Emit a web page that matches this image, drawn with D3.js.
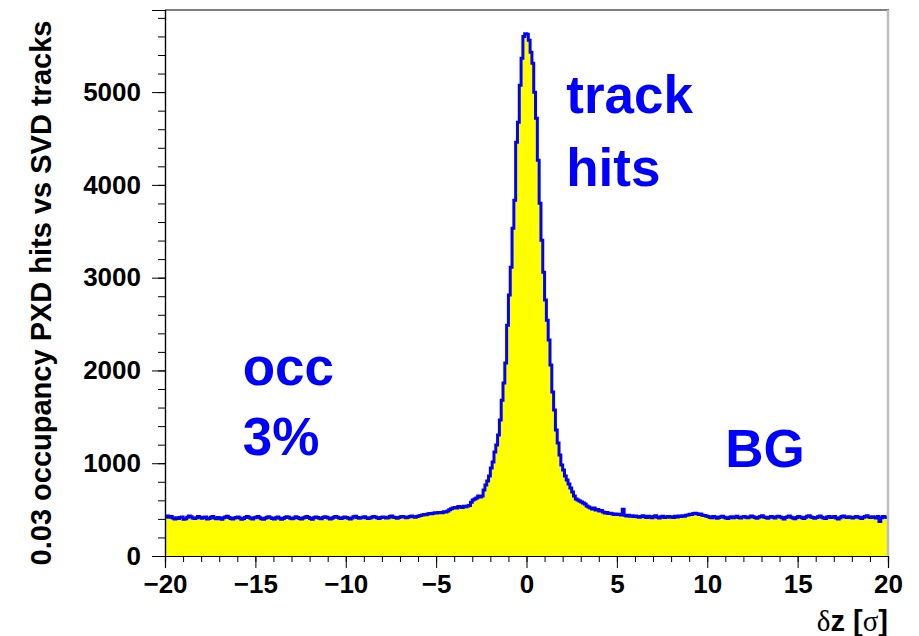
<!DOCTYPE html>
<html>
<head>
<meta charset="utf-8">
<script src="https://cdn.jsdelivr.net/npm/d3@7"></script>
<style>
  html, body { margin: 0; padding: 0; background: #fff; }
  svg { display: block; }
  text { font-family: "Liberation Sans", Arial, Helvetica, sans-serif; font-weight: bold; }
</style>
</head>
<body>
<svg id="chart" width="919" height="636"></svg>
<script>
// Histogram range and binning: 400 bins of δz between -20σ and +20σ
const xRange = [-20, 20];
const yMaxAxis = 5885;

// Bin contents, left to right (20 bins per row)
const counts = [
  420, 432, 418, 425, 410, 398, 412, 405, 415, 420, 395, 402, 418, 430, 422, 410, 404, 412, 425, 418,
  408, 415, 420, 399, 405, 418, 426, 410, 402, 415, 407, 396, 412, 420, 428, 415, 404, 398, 410, 416,
  421, 409, 395, 403, 414, 425, 418, 406, 400, 412, 419, 427, 413, 402, 396, 408, 417, 422, 411, 404,
  399, 413, 420, 408, 396, 405, 416, 424, 418, 407, 401, 410, 422, 415, 403, 398, 409, 419, 426, 414,
  405, 397, 411, 420, 416, 408, 402, 415, 423, 418, 409, 400, 406, 417, 425, 419, 410, 403, 412, 421,
  416, 407, 399, 410, 422, 428, 415, 406, 411, 419, 424, 413, 404, 409, 418, 426, 420, 411, 405, 414,
  421, 417, 409, 412, 425, 430, 419, 414, 408, 416, 423, 427, 420, 413, 418, 426, 431, 422, 417, 425,
  430, 436, 442, 448, 445, 452, 458, 455, 461, 466, 463, 470, 468, 466, 476, 473, 486, 498, 510, 518,
  524, 518, 533, 529, 522, 536, 531, 539, 545, 578, 603, 614, 625, 646, 636, 646, 711, 765, 808, 862,
  948, 1013, 1120, 1196, 1303, 1465, 1680, 1864, 2079, 2488, 2812, 3113, 3533, 3835, 4460, 4675, 5074, 5365, 5600, 5630,
  5623, 5559, 5430, 5311, 4998, 4718, 4266, 3803, 3404, 3059, 2758, 2542, 2327, 2058, 1767, 1573, 1357, 1217, 1088, 980,
  926, 862, 819, 776, 733, 689, 646, 614, 603, 592, 582, 571, 560, 539, 528, 517, 506, 517, 496, 502,
  485, 490, 474, 463, 470, 458, 462, 455, 448, 452, 446, 450, 441, 505, 438, 432, 440, 428, 435, 426,
  431, 424, 418, 427, 435, 422, 416, 429, 420, 412, 425, 433, 419, 410, 422, 428, 415, 420, 426, 418,
  423, 416, 428, 420, 431, 425, 434, 429, 438, 442, 450, 446, 458, 462, 455, 448, 452, 440, 436, 430,
  425, 418, 412, 426, 420, 408, 415, 422, 429, 417, 410, 404, 419, 424, 413, 420, 428, 416, 409, 421,
  427, 418, 412, 420, 431, 423, 415, 408, 419, 426, 433, 420, 414, 406, 418, 425, 417, 410, 422, 429,
  420, 413, 398, 416, 424, 431, 418, 409, 402, 415, 427, 420, 412, 405, 419, 428, 433, 421, 414, 408,
  416, 424, 430, 418, 410, 403, 421, 427, 414, 419, 425, 410, 399, 412, 426, 432, 420, 415, 423, 418,
  409, 417, 426, 420, 413, 405, 418, 427, 433, 421, 414, 422, 418, 410, 425, 372, 412, 426, 421, 415
];

// Axis ticks
const xMajorTicks = [-20, -15, -10, -5, 0, 5, 10, 15, 20];
const xMinorTicks = d3.range(-20, 21, 1);
const yMajorTicks = [0, 1000, 2000, 3000, 4000, 5000];
const yMinorTicks = d3.range(0, 5801, 200);

// Labels
const yTitle = "0.03 occupancy PXD hits vs SVD tracks";
const annotations = [
  { text: "track", x: 2.2, y: 4770 },
  { text: "hits", x: 2.2, y: 3985 },
  { text: "occ", x: -15.7, y: 1840 },
  { text: "3%", x: -15.7, y: 1090 },
  { text: "BG", x: 11.0, y: 960 }
];

const svg = d3.select("#chart");
const frame = { left: 165, right: 888, top: 10, bottom: 556 };

const x = d3.scaleLinear().domain(xRange).range([frame.left, frame.right]);
const y = d3.scaleLinear().domain([0, yMaxAxis]).range([frame.bottom, frame.top]);

// Step outline points for every bin
const binWidth = (xRange[1] - xRange[0]) / counts.length;
const steps = [];
counts.forEach((c, i) => {
  const lo = xRange[0] + i * binWidth;
  steps.push([lo, c], [lo + binWidth, c]);
});

// Filled histogram
svg.append("path")
  .datum(steps)
  .attr("fill", "#ffff00")
  .attr("d", d3.area().x(d => x(d[0])).y0(y(0)).y1(d => y(d[1])));

// Histogram outline
svg.append("path")
  .datum(steps)
  .attr("fill", "none")
  .attr("stroke", "#0000ff")
  .attr("stroke-width", 3)
  .attr("stroke-linejoin", "miter")
  .attr("d", d3.line().x(d => x(d[0])).y(d => y(d[1])));

// Frame: top and right edges
svg.append("line")
  .attr("x1", frame.left).attr("x2", frame.right + 1)
  .attr("y1", frame.top).attr("y2", frame.top)
  .attr("stroke", "#555").attr("stroke-width", 1.6);
svg.append("line")
  .attr("x1", frame.right).attr("x2", frame.right)
  .attr("y1", frame.top).attr("y2", frame.bottom)
  .attr("stroke", "#bdbdbd").attr("stroke-width", 2.5);

// Y axis
const yMinor = svg.append("g").attr("transform", `translate(${frame.left},0)`)
  .call(d3.axisLeft(y).tickValues(yMinorTicks).tickSize(7).tickFormat(""));
const yMajor = svg.append("g").attr("transform", `translate(${frame.left},0)`)
  .call(d3.axisLeft(y).tickValues(yMajorTicks).tickSize(13).tickPadding(11).tickFormat(d3.format("d")));

// X axis
const xMinor = svg.append("g").attr("transform", `translate(0,${frame.bottom})`)
  .call(d3.axisBottom(x).tickValues(xMinorTicks).tickSize(6).tickFormat(""));
const xMajor = svg.append("g").attr("transform", `translate(0,${frame.bottom})`)
  .call(d3.axisBottom(x).tickValues(xMajorTicks).tickSize(12).tickPadding(7).tickFormat(d3.format("d")));

[yMinor, yMajor, xMinor, xMajor].forEach(g => {
  g.select(".domain").attr("stroke", "#000").attr("stroke-width", 1.2);
  g.selectAll(".tick line").attr("stroke", "#000").attr("stroke-width", 1);
});
[yMajor, xMajor].forEach(g => g.selectAll(".tick text")
  .attr("font-size", 26).attr("fill", "#000")
  .style("font-family", "'Liberation Sans', Arial, sans-serif").style("font-weight", "bold"));

// Axis titles
svg.append("text")
  .attr("transform", `translate(51,${(frame.top + frame.bottom) / 2 + 10}) rotate(-90)`)
  .attr("text-anchor", "middle")
  .attr("font-size", 29)
  .attr("fill", "#000")
  .text(yTitle);

const xTitle = svg.append("text")
  .attr("x", frame.right)
  .attr("y", 631)
  .attr("text-anchor", "end")
  .attr("font-size", 29)
  .attr("fill", "#000");
xTitle.append("tspan").style("font-family", "'Liberation Serif', serif").style("font-weight", "normal").text("δ");
xTitle.append("tspan").text("z [");
xTitle.append("tspan").style("font-family", "'Liberation Serif', serif").style("font-weight", "normal").text("σ");
xTitle.append("tspan").text("]");

// Annotations in the plot area
svg.selectAll("text.note")
  .data(annotations)
  .join("text")
  .attr("class", "note")
  .attr("x", d => x(d.x))
  .attr("y", d => y(d.y))
  .attr("font-size", 53)
  .attr("fill", "#0000ff")
  .text(d => d.text);
</script>
</body>
</html>
